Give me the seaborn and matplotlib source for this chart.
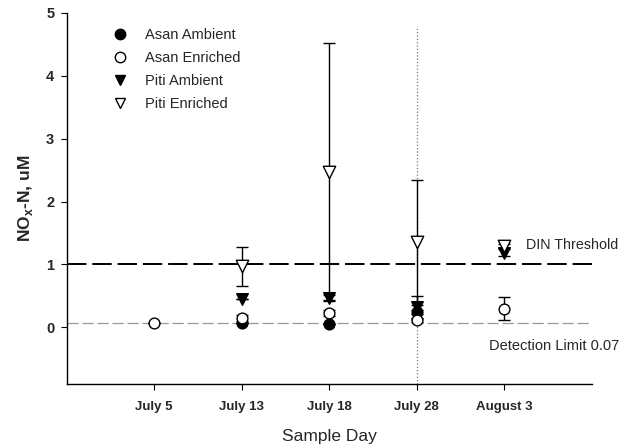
import numpy as np
import pandas as pd
import matplotlib
matplotlib.use("Agg")
import matplotlib.pyplot as plt
import seaborn as sns
from matplotlib.lines import Line2D

sns.set_style("white")
plt.rcParams['font.family'] = ['Liberation Sans', 'DejaVu Sans']

days = ["July 5", "July 13", "July 18", "July 28", "August 3"]
asan_amb = [np.nan, 0.07, 0.05, 0.25, np.nan]
asan_amb_err = [0, 0, 0, 0.03, 0]
asan_enr = [0.07, 0.15, 0.23, 0.12, 0.30]
asan_enr_err = [0, 0.05, 0.05, 0.03, 0.19]
piti_amb = [np.nan, 0.45, 0.47, 0.32, 1.19]
piti_amb_err = [0, 0, 0.04, 0.18, 0.05]
piti_enr = [np.nan, 0.97, 2.47, 1.35, 1.30]
piti_enr_err = [0, 0.31, 2.05, 1.0, 0.03]
din_threshold = 1.0
detection_limit = 0.07

x = np.arange(1, len(days) + 1)

fig = plt.figure(figsize=(6.27, 4.47), dpi=100)
ax = fig.add_axes([0.1065, 0.141, 0.837, 0.83])

# reference lines
ax.axhline(din_threshold, color='black', lw=1.4, ls=(0, (10, 3)), zorder=1)
ax.axhline(detection_limit, color='#999999', lw=0.9, ls=(0, (9, 3)), zorder=1)
ax.vlines(4, -0.9, 4.8, color='#777777', lw=0.9, ls=':', zorder=1)

series = [
    ("Asan Ambient", asan_amb, asan_amb_err, 'o', 'black', 60),
    ("Asan Enriched", asan_enr, asan_enr_err, 'o', 'white', 60),
    ("Piti Ambient", piti_amb, piti_amb_err, 'v', 'black', 70),
    ("Piti Enriched", piti_enr, piti_enr_err, 'v', 'white', 80),
]

handles = []
for name, vals, errs, mk, fc, s in series:
    df = pd.DataFrame({"day": x, "val": vals, "err": errs}).dropna()
    ax.errorbar(df["day"], df["val"], yerr=df["err"], fmt='none', ecolor='black',
                elinewidth=1.0, capsize=4, capthick=1.0, zorder=2)
    sns.scatterplot(data=df, x="day", y="val", marker=mk, s=s, color=fc,
                    edgecolor='black', linewidth=1.0, ax=ax, zorder=3, legend=False)
    handles.append(Line2D([], [], marker=mk, ls='none', markerfacecolor=fc,
                          markeredgecolor='black', markersize=7.5, label=name))

ax.set_xlim(0, 6)
ax.set_ylim(-0.9, 5)
ax.set_xticks(x)
ax.set_xticklabels(days, fontsize=9.5, fontweight='bold')
ax.set_yticks([0, 1, 2, 3, 4, 5])
ax.set_yticklabels(['0', '1', '2', '3', '4', '5'], fontsize=10.5, fontweight='bold')
ax.tick_params(axis='both', direction='out', length=4, width=0.8, color='black', bottom=True, left=True)
ax.tick_params(axis='x', pad=8)
ax.tick_params(axis='y', pad=5)
ax.set_xlabel("Sample Day", fontsize=12.5, labelpad=12)
ax.set_ylabel(r"NO$_\mathregular{x}$-N, uM", fontsize=12.5, fontweight='bold', labelpad=8)

for sp in ['top', 'right']:
    ax.spines[sp].set_visible(False)
for sp in ['left', 'bottom']:
    ax.spines[sp].set_color('black')
    ax.spines[sp].set_linewidth(1.0)

ax.text(5.25, 1.31, "DIN Threshold", fontsize=10.3, va='center', ha='left', clip_on=False)
ax.text(6.32, -0.3, "Detection Limit 0.07", fontsize=10.5, va='center', ha='right', clip_on=False)

ax.legend(handles=handles, loc='upper left', bbox_to_anchor=(0.077, 0.975), frameon=False,
          fontsize=10.5, handlelength=1.0, handletextpad=1.2, labelspacing=0.62, borderaxespad=0)

fig.savefig("out.png", dpi=100)
